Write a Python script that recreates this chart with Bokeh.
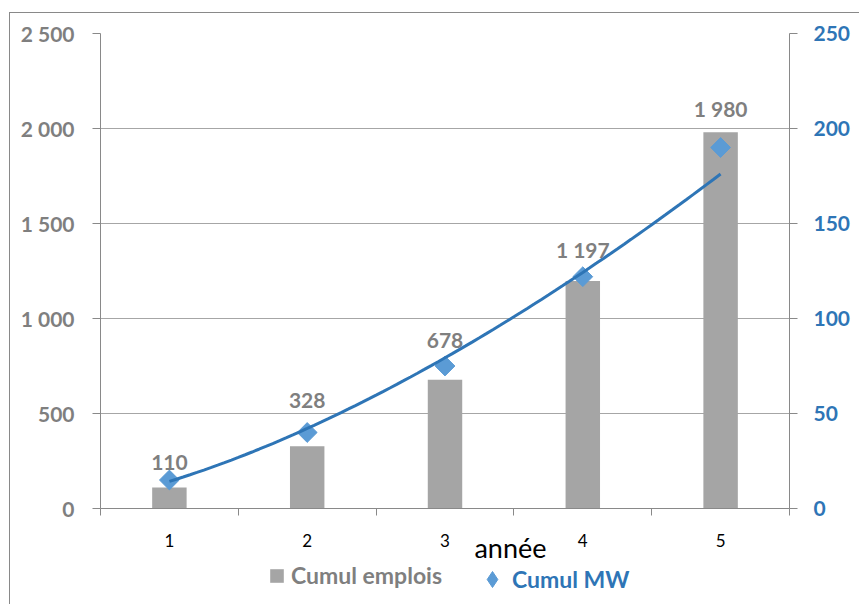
import numpy as np
from bokeh.plotting import figure
from bokeh.layouts import column
from bokeh.models import (LinearAxis, Range1d, FixedTicker, Legend, LegendItem)
from bokeh.core.properties import value
from bokeh.embed import file_html
from bokeh.resources import INLINE

# ---- data ----
years = [1, 2, 3, 4, 5]
emplois = [110, 328, 678, 1197, 1980]
mw = [15, 40, 75, 122, 190]
left_ticks = [0, 500, 1000, 1500, 2000, 2500]
right_ticks = [0, 50, 100, 150, 200, 250]
x_labels = ["1", "2", "3", "4", "5"]
x_title = "année"
series_names = ["Cumul emplois", "Cumul MW"]

# power trendline of "Cumul MW" (least squares in log-log space, as the spreadsheet does)
b_pow, a_pow = np.polyfit(np.log(years), np.log(mw), 1)
trend_x = np.linspace(years[0], years[-1], 81)
trend_mw = np.exp(a_pow) * trend_x ** b_pow

# ---- styles ----
FONT = "Lato"
GRAY_TXT = "#7f7f7f"
BLUE_TXT = "#2e75b6"
BAR = "#a5a5a5"
DIAMOND = "#5b9bd5"
AXIS = "#898989"
GRID = "#a6a6a6"
label_offsets = [-18, -32, -26, -27, -24]
TITLE_POS = 3.475  # horizontal centre of the axis title, in category units


def fr(v):
    return f"{v:,}".replace(",", " ")


left_max = left_ticks[-1]
right_max = right_ticks[-1]

p = figure(width=850, height=565, output_backend="svg", toolbar_location=None,
           x_range=Range1d(0.5, 5.5), y_range=Range1d(0, left_max),
           min_border_left=90, min_border_right=71, min_border_top=20,
           min_border_bottom=70)
p.styles = {"margin-left": "9px", "margin-top": "12px",
            "border-left": f"1px solid {AXIS}", "border-top": f"1px solid {AXIS}"}
p.outline_line_color = None
p.extra_y_ranges = {"mw": Range1d(0, right_max)}

# x axis (ticks between categories, labels at categories)
xa = p.xaxis[0]
xa.ticker = FixedTicker(ticks=years, minor_ticks=[y - 0.5 for y in years] + [years[-1] + 0.5])
xa.major_label_overrides = {y: l for y, l in zip(years, x_labels)}
xa.major_tick_line_color = None
xa.major_tick_out = 0
xa.major_tick_in = 0
xa.minor_tick_out = 7
xa.minor_tick_in = 0
xa.minor_tick_line_color = AXIS
xa.axis_line_color = AXIS
xa.major_label_standoff = 18
xa.major_label_text_font = FONT
xa.major_label_text_font_size = "17px"
xa.major_label_text_color = "black"

# axis title placed as a label of a secondary (invisible) axis
xt = LinearAxis(ticker=FixedTicker(ticks=[TITLE_POS]),
                major_label_overrides={TITLE_POS: x_title},
                axis_line_color=None, major_tick_line_color=None,
                minor_tick_line_color=None, major_tick_out=0, major_tick_in=0,
                minor_tick_out=0, minor_tick_in=0, major_label_standoff=-19,
                major_label_text_font=FONT, major_label_text_font_size="27px",
                major_label_text_color="black")
p.add_layout(xt, "below")

# left axis
ya = p.yaxis[0]
ya.ticker = FixedTicker(ticks=left_ticks)
ya.major_label_overrides = {t: fr(t) for t in left_ticks}
ya.major_tick_out = 8
ya.major_tick_in = 0
ya.minor_tick_line_color = None
ya.major_tick_line_color = AXIS
ya.axis_line_color = AXIS
ya.major_label_standoff = 18
ya.major_label_text_font = FONT
ya.major_label_text_font_style = "bold"
ya.major_label_text_font_size = "21px"
ya.major_label_text_color = GRAY_TXT

# right axis
ra = LinearAxis(y_range_name="mw", ticker=FixedTicker(ticks=right_ticks))
ra.major_label_overrides = {t: fr(t) for t in right_ticks}
ra.major_tick_out = 8
ra.major_tick_in = 0
ra.minor_tick_line_color = None
ra.major_tick_line_color = AXIS
ra.axis_line_color = AXIS
ra.major_label_standoff = 16
ra.major_label_text_font = FONT
ra.major_label_text_font_style = "bold"
ra.major_label_text_font_size = "21px"
ra.major_label_text_color = BLUE_TXT
p.add_layout(ra, "right")

p.xgrid.visible = False
p.ygrid.ticker = FixedTicker(ticks=left_ticks)
p.ygrid.grid_line_color = GRID

# glyphs
bars = p.vbar(x=years, top=emplois, width=0.25, fill_color=BAR, line_color=None)
diamonds = p.scatter(x=years, y=mw, y_range_name="mw", marker="square",
                     angle=np.pi / 4, size=14, fill_color=DIAMOND, line_color=DIAMOND)
p.line(x=trend_x, y=trend_mw, y_range_name="mw", line_color=BLUE_TXT, line_width=3)

# data labels
scale = left_max / right_max
label_y = [max(e, m * scale) for e, m in zip(emplois, mw)]
p.text(x=years, y=label_y, text=[fr(e) for e in emplois], y_offset=label_offsets,
       text_align="center", text_baseline="middle", text_font=value(FONT),
       text_font_style="bold", text_font_size="21px", text_color=GRAY_TXT)

# ---- legend strip (transparent, overlapping the bottom of the chart) ----
lg = figure(width=850, height=50, output_backend="svg", toolbar_location=None,
            x_range=Range1d(0, 1), y_range=Range1d(0, 1),
            x_axis_type=None, y_axis_type=None, min_border=0)
lg.styles = {"margin-left": "9px", "margin-top": "-23px",
             "border-left": f"1px solid {AXIS}"}
lg.outline_line_color = None
lg.border_fill_alpha = 0
lg.background_fill_alpha = 0
# legend-only renderers (kept outside the visible range)
lg_bar = lg.vbar(x=[-10], top=[-10], width=0.25, fill_color=BAR, line_color=None)
lg_dia = lg.scatter(x=[-10], y=[-10], marker="diamond", size=14,
                    fill_color=DIAMOND, line_color=DIAMOND)


def make_legend(name, rend, color, loc, glyph, standoff):
    leg = Legend(items=[LegendItem(label=name, renderers=[rend], index=0)], location=loc,
                 orientation="horizontal", padding=0, margin=0, glyph_width=glyph,
                 glyph_height=glyph, label_standoff=standoff, border_line_color=None,
                 background_fill_alpha=0, label_text_font=FONT,
                 label_text_font_style="bold", label_text_font_size="23px",
                 label_text_color=color, label_height=20)
    lg.add_layout(leg, "center")


make_legend(series_names[0], lg_bar, GRAY_TXT, (168, 15), 17, 6)
make_legend(series_names[1], lg_dia, BLUE_TXT, (372, 5), 40, -5)

open("out.html", "w").write(file_html(column(p, lg), INLINE))
